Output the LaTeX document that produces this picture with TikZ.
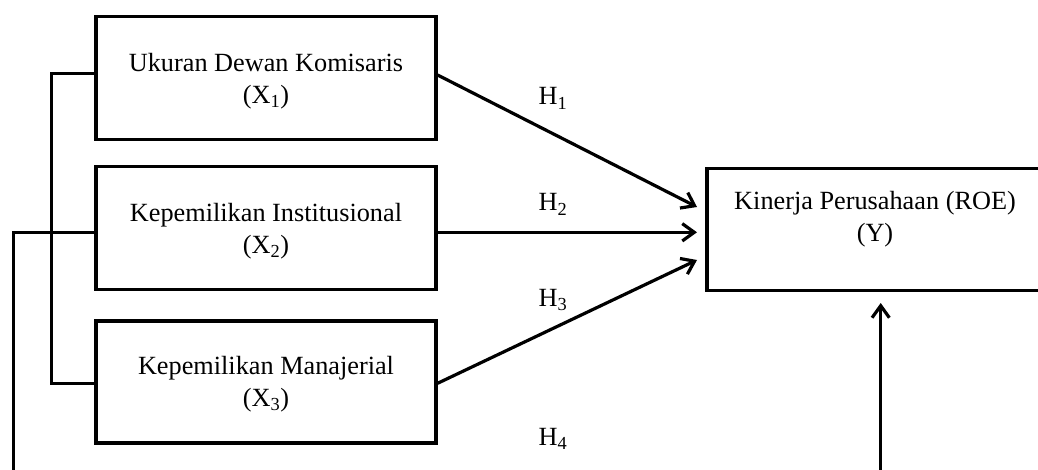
\documentclass[tikz,border=0pt]{standalone}
\usepackage{fontspec}
\setmainfont{Liberation Serif}
\usetikzlibrary{arrows.meta,calc}
\begin{document}
\begin{tikzpicture}[x=0.75pt,y=-0.75pt, line width=2.4pt,
  box/.style={draw, rectangle, minimum width=255pt, minimum height=92.25pt, inner sep=0pt},
  txt/.style={align=center, inner sep=0pt, font=\fontsize{19.7pt}{24pt}\selectfont},
  hlab/.style={anchor=base, inner sep=0pt, font=\fontsize{19.7pt}{24pt}\selectfont},
  arr/.style={-{Straight Barb[length=9pt,width=13pt]}}]
\useasboundingbox (0,0) rectangle (1038,470);
\clip (0,0) rectangle (1038,470);
% boxes
\node[box] (X1) at (266,78.3) {};
\node[box] (X2) at (266,228.3) {};
\node[box, minimum height=91.5pt] (X3) at (266,382) {};
\node[box, minimum width=253.5pt, minimum height=91.8pt] (Y) at (876,229.5) {};
% texts
\node[txt] (tX1) at (266,81) {Ukuran Dewan Komisaris\\(X\textsubscript{1})};
\node[txt] (tX2) at (266,231) {Kepemilikan Institusional\\(X\textsubscript{2})};
\node[txt] (tX3) at (266,384) {Kepemilikan Manajerial\\(X\textsubscript{3})};
\node[txt] (tY) at (875,219) {Kinerja Perusahaan (ROE)\\(Y)};
% coordinates
\coordinate (t1) at (697,207);
\coordinate (t2) at (697,232.3);
\coordinate (t3) at (697,260);
\coordinate (t4) at (880.7,303);
\coordinate (b4) at (880.7,480);
\coordinate (bl) at (13.3,480);
% arrows
\draw[arr] ($(X1.east)+(0,-3.3)$) -- (t1);
\draw[arr] ($(X2.east)+(0,4)$) -- (t2);
\draw[arr] ($(X3.east)+(0,1.3)$) -- (t3);
\draw[arr] (b4) -- (t4);
% bracket
\draw ($(X1.west)+(0,-5)$) -- ++(-42.7,0) |- ($(X3.west)+(0,1.3)$);
\draw (bl) |- ($(X2.west)+(0,4)$);
% labels
\node[hlab] (H1) at (553,105) {H\textsubscript{1}};
\node[hlab] (H2) at (553,211) {H\textsubscript{2}};
\node[hlab] (H3) at (553,306) {H\textsubscript{3}};
\node[hlab] (H4) at (553,445) {H\textsubscript{4}};
\end{tikzpicture}
\end{document}
